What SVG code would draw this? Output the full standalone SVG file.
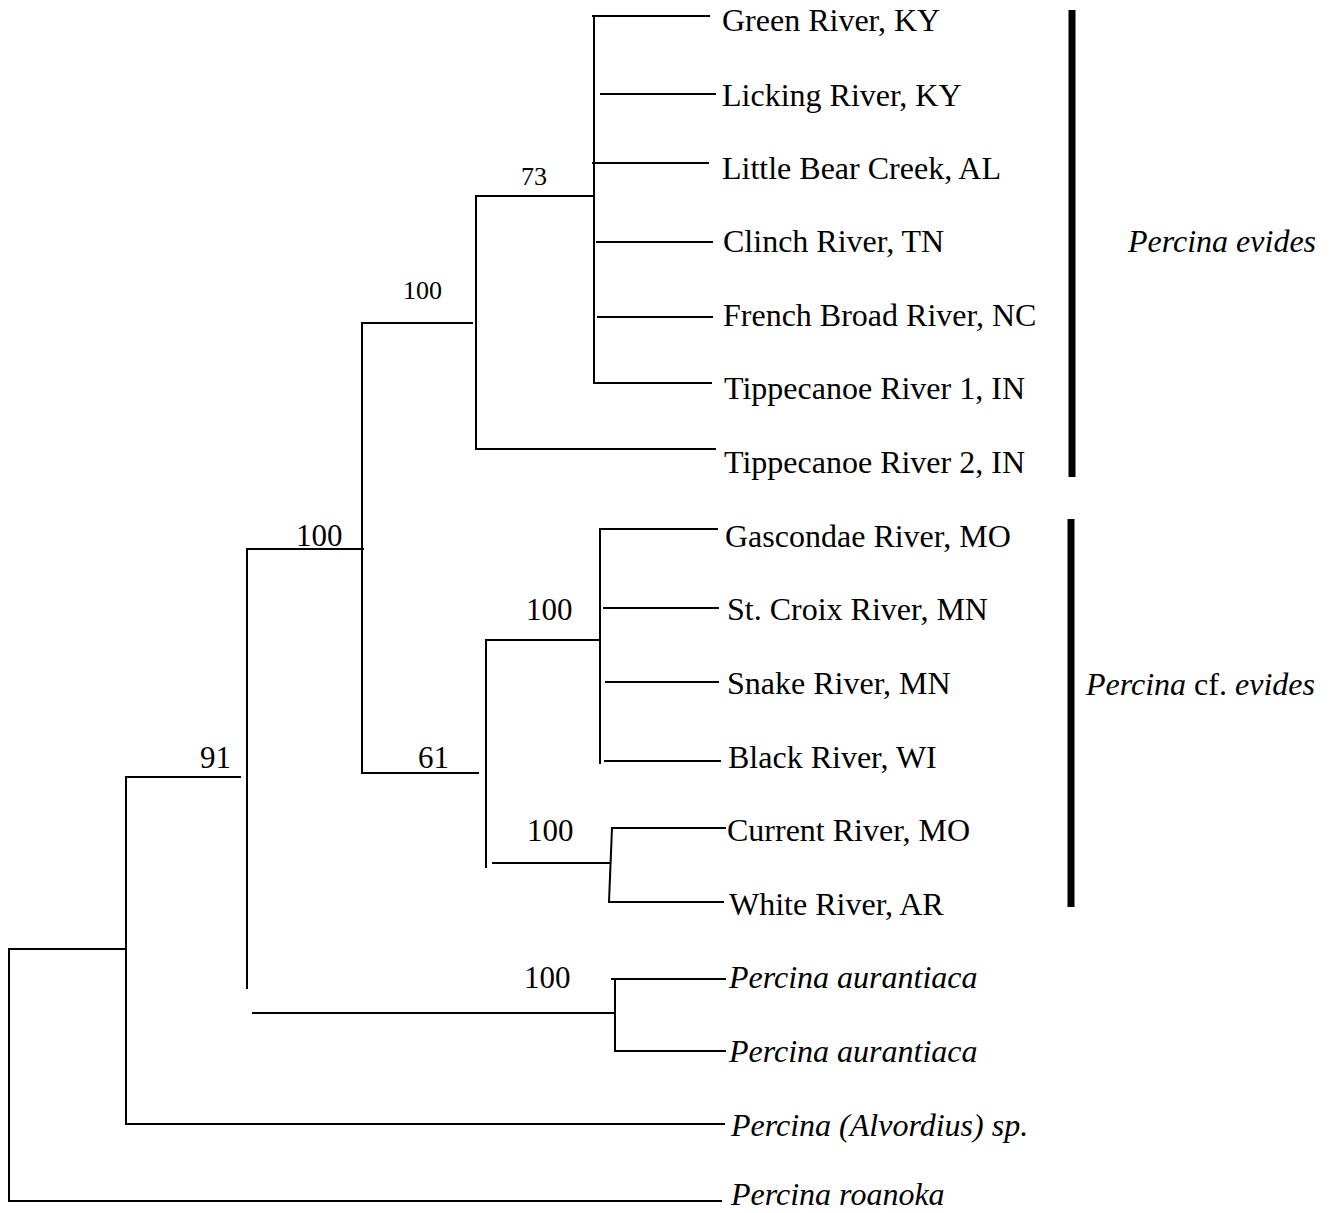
<svg xmlns="http://www.w3.org/2000/svg" width="1329" height="1213" viewBox="0 0 1329 1213">
<style>
.br{stroke:#000;stroke-width:2;fill:none;stroke-linecap:square}
.bar{stroke:#000;stroke-width:7;fill:none}
.lab{font-family:"Liberation Serif","Times New Roman",serif;font-size:32px;fill:#000}
.it{font-style:italic}
.bs{font-family:"Liberation Serif","Times New Roman",serif;font-size:31px;fill:#000}
.bsm{font-family:"Liberation Serif","Times New Roman",serif;font-size:26px;fill:#000}
</style>
<rect width="1329" height="1213" fill="#fff"/>
<g id="connectors">
<path class="br" d="M9 949 V1201 H721"/>
<path class="br" d="M9 949 H126"/>
<path class="br" d="M126 777 V1124 H724"/>
<path class="br" d="M126 777 H240"/>
<path class="br" d="M247 549 V988"/>
<path class="br" d="M253 1013 H615"/>
<path class="br" d="M247 549 H363"/>
<path class="br" d="M612 979 H725"/>
<path class="br" d="M615 979 V1051 H725"/>
<path class="br" d="M362 323 V773 H478"/>
<path class="br" d="M362 323 H472"/>
<path class="br" d="M476 196 V449 H715"/>
<path class="br" d="M477 196 H594"/>
<path class="br" d="M594 17 V383 H711"/>
<path class="br" d="M593 16 H709"/>
<path class="br" d="M601 94 H715"/>
<path class="br" d="M593 163 H708"/>
<path class="br" d="M597 242 H712"/>
<path class="br" d="M598 317 H712"/>
<path class="br" d="M486 640 V867"/>
<path class="br" d="M486 640 H600"/>
<path class="br" d="M493 863 H609"/>
<path class="br" d="M600 529 V763"/>
<path class="br" d="M600 529 H717"/>
<path class="br" d="M604 608 H718"/>
<path class="br" d="M606 682 H718"/>
<path class="br" d="M605 761 H720"/>
<path class="br" d="M612 828 H725"/>
<path class="br" d="M612 828 L609 902 H723"/>
</g>
<g id="bars">
<line class="bar" x1="1072" y1="10" x2="1072" y2="477"/>
<line class="bar" x1="1071" y1="519" x2="1071" y2="907"/>
</g>
<g id="support-labels">
<text class="bsm" x="521" y="185">73</text>
<text class="bsm" x="403" y="299">100</text>
<text class="bs" x="296" y="546">100</text>
<text class="bs" x="526" y="620">100</text>
<text class="bs" x="200" y="768">91</text>
<text class="bs" x="418" y="768">61</text>
<text class="bs" x="527" y="841">100</text>
<text class="bs" x="524" y="988">100</text>
</g>
<g id="n-green"><text class="lab" x="722" y="31">Green River, KY</text></g>
<g id="n-licking"><text class="lab" x="722" y="106">Licking River, KY</text></g>
<g id="n-littlebear"><text class="lab" x="722" y="179">Little Bear Creek, AL</text></g>
<g id="n-clinch"><text class="lab" x="723" y="252">Clinch River, TN</text></g>
<g id="n-frenchbroad"><text class="lab" x="723" y="326">French Broad River, NC</text></g>
<g id="n-tipp1"><text class="lab" x="724" y="399">Tippecanoe River 1, IN</text></g>
<g id="n-tipp2"><text class="lab" x="724" y="473">Tippecanoe River 2, IN</text></g>
<g id="n-gascondae"><text class="lab" x="725" y="547">Gascondae River, MO</text></g>
<g id="n-stcroix"><text class="lab" x="727" y="620">St. Croix River, MN</text></g>
<g id="n-snake"><text class="lab" x="727" y="694">Snake River, MN</text></g>
<g id="n-black"><text class="lab" x="728" y="768">Black River, WI</text></g>
<g id="n-current"><text class="lab" x="727" y="841">Current River, MO</text></g>
<g id="n-white"><text class="lab" x="729" y="915">White River, AR</text></g>
<g id="n-aur1"><text class="lab it" x="729" y="988">Percina aurantiaca</text></g>
<g id="n-aur2"><text class="lab it" x="729" y="1062">Percina aurantiaca</text></g>
<g id="n-alvordius"><text class="lab it" x="731" y="1136">Percina (Alvordius) sp.</text></g>
<g id="n-roanoka"><text class="lab it" x="731" y="1205">Percina roanoka</text></g>
<g id="clade-evides"><text class="lab it" x="1128" y="252">Percina evides</text></g>
<g id="clade-cf"><text class="lab" x="1086" y="695"><tspan class="it">Percina</tspan> cf. <tspan class="it">evides</tspan></text></g>
</svg>
